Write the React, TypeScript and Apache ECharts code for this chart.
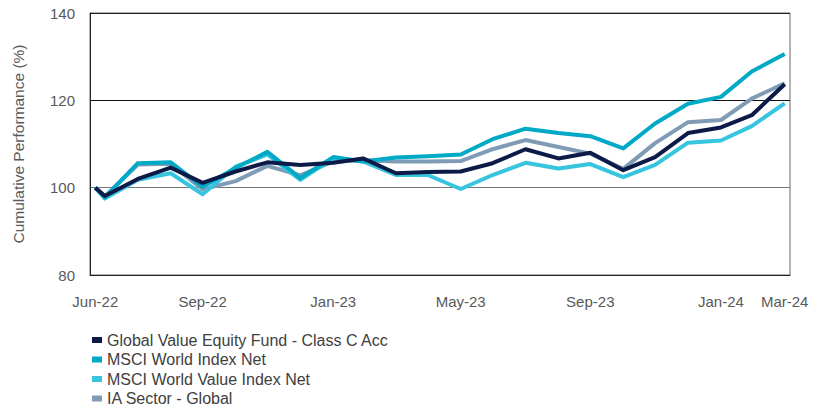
import React, { useEffect, useRef } from "react";
import * as echarts from "echarts";

const dates = [
  "2022-06-21", "2022-06-30", "2022-07-31", "2022-08-31", "2022-09-30", "2022-10-31", "2022-11-30", "2022-12-31",
  "2023-01-31", "2023-02-28", "2023-03-31", "2023-04-30", "2023-05-31", "2023-06-30", "2023-07-31", "2023-08-31",
  "2023-09-30", "2023-10-31", "2023-11-30", "2023-12-31", "2024-01-31", "2024-02-29", "2024-03-31",
];

const fund = [100, 98.1, 102.0, 104.6, 101.1, 103.7, 105.8, 105.2, 105.7, 106.7, 103.3, 103.6, 103.7, 105.6, 108.8, 106.7, 108.0, 104.0, 107.0, 112.5, 113.8, 116.6, 123.7];
const msciWorld = [100, 97.8, 105.6, 105.8, 100.2, 104.5, 108.2, 102.2, 107.0, 106.0, 106.9, 107.2, 107.6, 111.1, 113.5, 112.5, 111.8, 109.0, 114.7, 119.2, 120.8, 126.6, 130.6];
const msciValue = [100, 97.5, 101.8, 103.3, 98.5, 104.8, 107.6, 101.8, 106.8, 106.0, 102.9, 102.9, 99.7, 102.9, 105.7, 104.4, 105.4, 102.4, 105.2, 110.3, 110.8, 114.1, 119.3];
const iaSector = [100, 98.0, 105.3, 105.5, 99.6, 101.5, 105.0, 102.8, 106.0, 106.3, 106.0, 106.0, 106.1, 108.8, 110.9, 109.3, 107.8, 104.3, 110.2, 115.0, 115.5, 120.4, 123.9];

const seriesNames = [
  "Global Value Equity Fund - Class C Acc",
  "MSCI World Index Net",
  "MSCI World Value Index Net",
  "IA Sector - Global",
];
const seriesColors = ["#0c1a48", "#00a9c6", "#36c4de", "#7f9bb5"];

const tickDates = ["2022-06-21", "2022-09-30", "2023-01-31", "2023-05-31", "2023-09-30", "2024-01-31", "2024-03-31"];
const tickLabels = ["Jun-22", "Sep-22", "Jan-23", "May-23", "Sep-23", "Jan-24", "Mar-24"];

const FONT = "'Liberation Sans', Arial, sans-serif";

// day number since epoch
const dayNum = (d: string) => Math.round(new Date(d + "T00:00:00Z").getTime() / 86400000);

export default function App() {
  const ref = useRef<HTMLDivElement>(null);
  useEffect(() => {
    if (!ref.current) return;
    const chart = echarts.init(ref.current, null, { renderer: "svg" });
    const tickDays = tickDates.map(dayNum);
    const all = [fund, msciWorld, msciValue, iaSector];
    chart.setOption({
      animation: false,
      backgroundColor: "#ffffff",
      textStyle: { fontFamily: FONT },
      grid: {
        left: 90,
        right: 38,
        top: 13,
        bottom: 134,
        show: true,
        borderColor: "#666",
        borderWidth: 1,
        backgroundColor: "transparent",
      },
      legend: {
        orient: "vertical",
        left: 92,
        top: 332,
        height: 90,
        padding: 0,
        itemWidth: 10,
        itemHeight: 6,
        itemGap: 3.5,
        icon: "rect",
        textStyle: { fontSize: 16, color: "#404040", fontFamily: FONT },
        data: seriesNames.map((n) => ({ name: n })),
      },
      xAxis: {
        type: "value",
        min: dayNum("2022-06-16"),
        max: dayNum("2024-04-05"),
        axisLine: { show: true, onZero: false, lineStyle: { color: "#222", width: 1 } },
        axisTick: { show: false },
        splitLine: { show: false },
        axisLabel: {
          customValues: tickDays,
          margin: 19,
          fontSize: 15,
          color: "#595959",
          fontFamily: FONT,
          showMinLabel: true,
          showMaxLabel: true,
          formatter: (v: number) => {
            const i = tickDays.indexOf(v);
            return i >= 0 ? tickLabels[i] : "";
          },
        },
      },
      yAxis: {
        type: "value",
        min: 80,
        max: 140,
        interval: 20,
        name: "Cumulative Performance (%)",
        nameLocation: "middle",
        nameGap: 64,
        nameTextStyle: { fontSize: 15.5, color: "#595959", fontFamily: FONT },
        axisLine: { show: true, lineStyle: { color: "#222", width: 1 } },
        axisTick: { show: false },
        axisLabel: { margin: 15, fontSize: 15, color: "#595959", fontFamily: FONT },
        splitLine: { show: true, lineStyle: { color: ["#222", "#777", "#111", "#222"], width: 1 } },
      },
      series: all.map((vals, i) => ({
        name: seriesNames[i],
        type: "line",
        data: vals.map((v, j) => [dayNum(dates[j]), v]),
        symbol: "none",
        z: i === 0 ? 6 : 5 - i,
        lineStyle: { color: seriesColors[i], width: 4, join: "round" },
        itemStyle: { color: seriesColors[i] },
      })),
    });
    return () => chart.dispose();
  }, []);
  return <div ref={ref} style={{ width: 828, height: 409, position: "absolute", left: 0, top: 0 }} />;
}
